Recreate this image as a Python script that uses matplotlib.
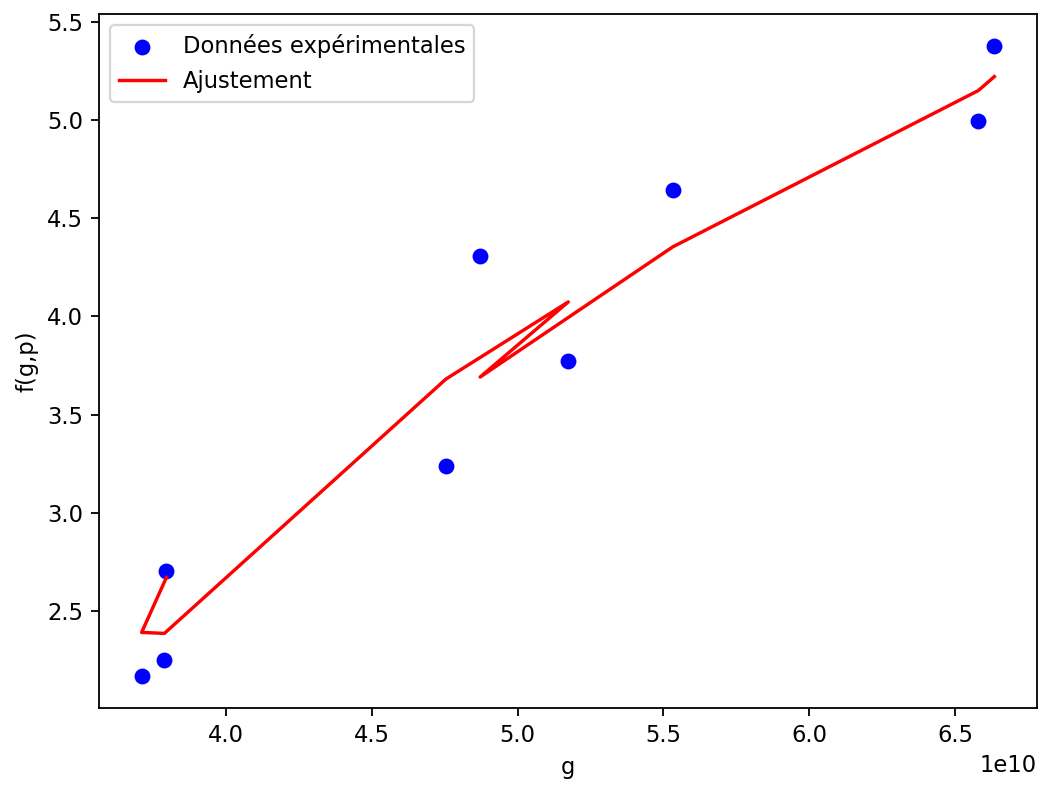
import matplotlib
matplotlib.use("Agg")
import matplotlib.pyplot as plt
import numpy as np

# mesures (g en unités de 1e10) et valeurs ajustées f(g,p), dans l'ordre des mesures
g = np.array([3.797, 3.712, 3.790, 4.755, 5.174, 4.872, 5.532, 6.579, 6.634]) * 1e10
f_mes = [2.704, 2.169, 2.255, 3.239, 3.774, 4.308, 4.645, 4.996, 5.378]
f_fit = [2.673, 2.393, 2.388, 3.682, 4.074, 3.692, 4.354, 5.149, 5.220]

DPI = 163
fig = plt.figure(figsize=(1041/DPI, 785/DPI), dpi=DPI)
ax = fig.add_axes([99/1041, 1 - 708/785, (1037 - 99)/1041, (708 - 14)/785])

ax.scatter(g, f_mes, color="blue", label="Données expérimentales")
ax.plot(g, f_fit, color="red", label="Ajustement")
ax.set_xlabel("g")
ax.set_ylabel("f(g,p)")
ax.legend(loc="upper left")

fig.savefig("out.png", dpi=DPI)
